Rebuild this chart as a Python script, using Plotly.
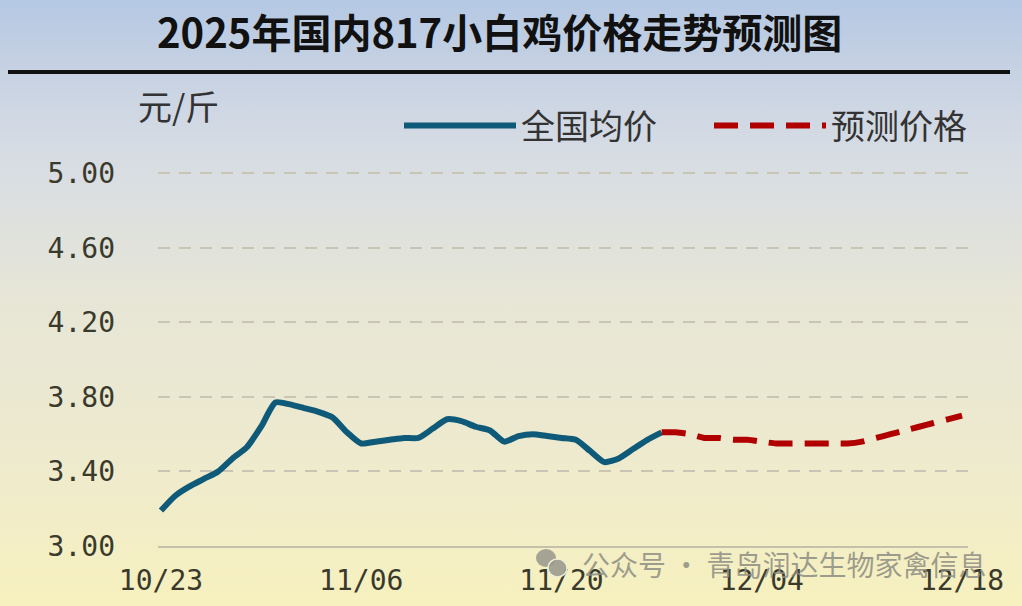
import base64
import pandas as pd
import plotly.graph_objects as go

# ---------------- data ----------------
actual_dates = pd.date_range("2025-10-23", "2025-11-27", freq="D")
actual_price = [3.19, 3.27, 3.32, 3.36, 3.40, 3.47, 3.53, 3.64, 3.77, 3.76,
                3.74, 3.72, 3.69, 3.61, 3.55, 3.56, 3.57, 3.58, 3.58, 3.63,
                3.68, 3.67, 3.64, 3.62, 3.56, 3.59, 3.60, 3.59, 3.58, 3.57,
                3.51, 3.45, 3.47, 3.52, 3.57, 3.61]
forecast_dates = pd.date_range("2025-11-27", "2025-12-18", freq="D")
forecast_price = [3.61, 3.61, 3.60, 3.58, 3.58, 3.57, 3.57, 3.56, 3.55, 3.55,
                  3.55, 3.55, 3.55, 3.55, 3.56, 3.58, 3.60, 3.62, 3.64, 3.66,
                  3.68, 3.70]
x_tick_dates = ["2025-10-23", "2025-11-06", "2025-11-20", "2025-12-04", "2025-12-18"]
x_tick_labels = ["10/23", "11/06", "11/20", "12/04", "12/18"]
y_ticks = [3.00, 3.40, 3.80, 4.20, 4.60, 5.00]
series_names = ["全国均价", "预测价格"]
title_text = "2025年国内817小白鸡价格走势预测图"
unit_text = "元/斤"
watermark_text = "公众号 · 青岛润达生物家禽信息"

# ---------------- layout geometry ----------------
W, H = 1022, 606
L, R, T, B = 158, 54, 164, 60
PW, PH = W - L - R, H - T - B


def px_x(p):
    return (p - L) / PW


def px_y(p):
    return (H - B - p) / PH


# gradient background as an inline SVG image
svg = f"""<svg xmlns='http://www.w3.org/2000/svg' width='{W}' height='{H}' preserveAspectRatio='none'>
<defs><linearGradient id='g' x1='0' y1='0' x2='0' y2='1'>
<stop offset='0' stop-color='rgb(180,200,228)'/>
<stop offset='0.10' stop-color='rgb(196,208,226)'/>
<stop offset='0.25' stop-color='rgb(214,220,228)'/>
<stop offset='0.50' stop-color='rgb(231,230,214)'/>
<stop offset='0.75' stop-color='rgb(238,234,206)'/>
<stop offset='1' stop-color='rgb(247,241,190)'/>
</linearGradient></defs>
<rect width='{W}' height='{H}' fill='url(#g)'/></svg>"""
bg_uri = "data:image/svg+xml;base64," + base64.b64encode(svg.encode()).decode()

fig = go.Figure()
fig.add_trace(go.Scatter(
    x=actual_dates, y=actual_price, mode="lines", name=series_names[0],
    line=dict(color="#0e5a78", width=6, shape="spline", smoothing=0.6),
))
fig.add_trace(go.Scatter(
    x=forecast_dates, y=forecast_price, mode="lines", name=series_names[1],
    line=dict(color="#b00000", width=6, dash="24px,12px", shape="spline", smoothing=0.6),
))

fig.update_layout(
    width=W, height=H,
    margin=dict(l=L, r=R, t=T, b=B, autoexpand=False),
    paper_bgcolor="rgb(226,228,220)",
    plot_bgcolor="rgba(0,0,0,0)",
    images=[dict(source=bg_uri, xref="paper", yref="paper",
                 x=px_x(-2), y=px_y(-2), sizex=(W + 4) / PW, sizey=(H + 4) / PH,
                 xanchor="left", yanchor="top", sizing="stretch", layer="below")],
    showlegend=True,
    legend=dict(orientation="h", x=px_x(399), y=px_y(126), xanchor="left", yanchor="middle",
                bgcolor="rgba(0,0,0,0)", itemwidth=112,
                font=dict(family="Noto Sans CJK SC", size=34, color="#333333"),
                entrywidth=183, entrywidthmode="pixels"),
    xaxis=dict(
        type="date",
        range=["2025-10-22 19:00", "2025-12-18 10:00"],
        tickvals=x_tick_dates, ticktext=x_tick_labels,
        showgrid=False, zeroline=False,
        showline=True, linecolor="#c4c0ac", linewidth=2,
        ticks="", ticklabelstandoff=8,
        tickfont=dict(family="DejaVu Sans Mono", size=28, color="#3a3a2c"),
    ),
    yaxis=dict(
        range=[3.0, 5.05],
        tickvals=y_ticks, tickformat=".2f",
        showgrid=True, gridcolor="#c8c5b5", gridwidth=2, griddash="12px,9px",
        zeroline=False, showline=False,
        ticks="", ticklabelstandoff=42,
        tickfont=dict(family="DejaVu Sans Mono", size=28, color="#3a3a2c"),
    ),
    shapes=[
        dict(type="line", xref="paper", yref="paper",
             x0=px_x(8), x1=px_x(1010), y0=px_y(72), y1=px_y(72),
             line=dict(color="#111111", width=4)),
        dict(type="circle", xref="paper", yref="paper",
             x0=px_x(536), x1=px_x(556), y0=px_y(567), y1=px_y(549),
             fillcolor="rgba(150,150,140,0.85)", line=dict(width=0)),
        dict(type="circle", xref="paper", yref="paper",
             x0=px_x(548), x1=px_x(567), y0=px_y(577), y1=px_y(559),
             fillcolor="rgba(150,150,140,0.85)", line=dict(color="rgba(240,238,210,1)", width=1.5)),
    ],
    annotations=[
        dict(text=f"<b>{title_text}</b>", xref="paper", yref="paper",
             x=px_x(499), y=px_y(31), xanchor="center", yanchor="middle", showarrow=False,
             font=dict(family="Noto Sans CJK SC", size=40, color="#111111")),
        dict(text=unit_text, xref="paper", yref="paper",
             x=px_x(178), y=px_y(106), xanchor="center", yanchor="middle", showarrow=False,
             font=dict(family="Noto Sans CJK SC", size=34, color="#333333")),
        dict(text=watermark_text, xref="paper", yref="paper",
             x=px_x(580), y=px_y(564), xanchor="left", yanchor="middle", showarrow=False,
             font=dict(family="Noto Sans CJK SC", size=28, color="rgba(140,140,130,0.85)")),
    ],
)

fig.write_html("out.html",
               config={"displayModeBar": False},
               post_script="document.body.style.margin='0';document.body.style.overflow='hidden';")
